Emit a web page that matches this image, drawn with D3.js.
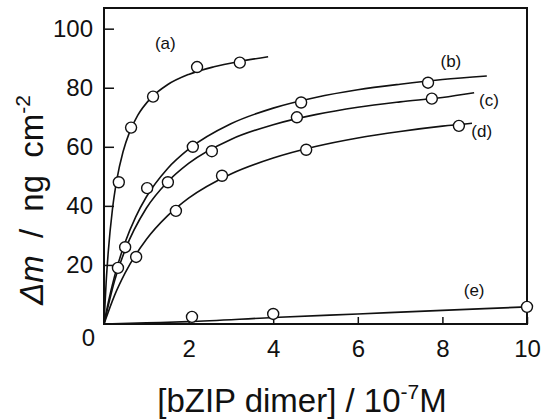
<!DOCTYPE html>
<html>
<head>
<meta charset="utf-8">
<script src="https://cdn.jsdelivr.net/npm/d3@7"></script>
<style>
  body { margin: 0; background: #fff; }
  svg { display: block; }
  text { font-family: "Liberation Sans", Arial, Helvetica, sans-serif; fill: #111; }
  .frame { fill: none; stroke: #111; stroke-width: 2; }
  .fit { fill: none; stroke: #111; stroke-width: 1.6; }
  .pt { fill: #fff; stroke: #111; stroke-width: 1.4; }
  .axis path { display: none; }
  .axis line { stroke: #111; stroke-width: 1.5; }
</style>
</head>
<body>
<div id="chart"></div>
<script>
// measured points  (x: bZIP dimer / 1e-7 M, y: delta m / ng cm-2)
var aX = [0.35, 0.64, 1.16, 2.2, 3.21];
var aY = [48, 66.5, 77, 87, 88.5];
var bX = [0.5, 1.02, 2.1, 4.66, 7.66];
var bY = [26, 46, 60, 75, 81.7];
var cX = [0.33, 1.51, 2.55, 4.56, 7.75];
var cY = [19, 48, 58.5, 70, 76.3];
var dX = [0.76, 1.7, 2.79, 4.78, 8.39];
var dY = [22.7, 38.3, 50.2, 59, 67.1];
var eX = [2.08, 4.0, 10];
var eY = [2.4, 3.4, 5.8];

// fitted curves
var aFitX = [0, 0.05, 0.1, 0.2, 0.3, 0.45, 0.6, 0.8, 1.1, 1.5, 2.0, 2.6, 3.2, 3.88];
var aFitY = [0, 13.9, 24.3, 38.9, 48.6, 58.3, 64.8, 70.7, 76.4, 81, 84.5, 87.1, 88.9, 90.5];
var bFitX = [0, 0.1, 0.25, 0.5, 0.75, 1, 1.5, 2, 3, 4, 5, 6, 7, 8, 9.05];
var bFitY = [0, 7.2, 16.2, 27.7, 36.3, 43, 52.6, 59.2, 67.8, 73.1, 76.7, 79.3, 81.2, 82.8, 84];
var cFitX = [0, 0.25, 0.5, 1, 1.5, 2, 3, 4, 5, 6, 7, 8, 8.75];
var cFitY = [0, 14.6, 25.1, 39.2, 48.1, 54.4, 62.5, 67.5, 70.9, 73.4, 75.2, 76.7, 78.3];
var dFitX = [0, 0.25, 0.5, 1, 1.5, 2, 3, 4, 5, 6, 7, 8, 8.7];
var dFitY = [0, 9.7, 17.3, 28.6, 36.6, 42.6, 50.8, 56.2, 60.1, 63, 65.2, 67, 68];
var eFitX = [0, 1, 2, 4, 6, 8, 10];
var eFitY = [0, 0.4, 0.8, 2.2, 3.4, 4.6, 5.8];

var curveLabels = ["(a)", "(b)", "(c)", "(d)", "(e)"];
var xTicks = [2, 4, 6, 8, 10];
var yTicks = [0, 20, 40, 60, 80, 100];

var W = 545, H = 419;
var pLeft = 104, pRight = 527, pTop = 8, pBottom = 324;

var x = d3.scaleLinear().domain([0, 10]).range([pLeft, pRight]);
var y = d3.scaleLinear().domain([0, 107]).range([pBottom, pTop]);

var svg = d3.select("#chart").append("svg")
  .attr("width", W)
  .attr("height", H);

function zip(xs, ys) {
  return xs.map(function(v, i) { return [v, ys[i]]; });
}

var series = [
  { fit: zip(aFitX, aFitY), pts: zip(aX, aY) },
  { fit: zip(bFitX, bFitY), pts: zip(bX, bY) },
  { fit: zip(cFitX, cFitY), pts: zip(cX, cY) },
  { fit: zip(dFitX, dFitY), pts: zip(dX, dY) },
  { fit: zip(eFitX, eFitY), pts: zip(eX, eY) }
];

// axes (ticks point inward)
var gx = svg.append("g")
  .attr("class", "axis")
  .attr("transform", "translate(0," + pBottom + ")")
  .call(d3.axisBottom(x).tickValues(xTicks).tickSizeInner(-7).tickSizeOuter(0).tickPadding(16));
gx.selectAll("text").style("font-size", "24px");

var gy = svg.append("g")
  .attr("class", "axis")
  .attr("transform", "translate(" + pLeft + ",0)")
  .call(d3.axisLeft(y).tickValues(yTicks).tickSizeInner(-10).tickSizeOuter(0).tickPadding(11));
gy.selectAll("text").style("font-size", "24px");
// the 0 sits at the corner, below the axis line
var zeroTick = gy.selectAll(".tick").filter(function(d) { return d === 0; });
zeroTick.select("text").attr("y", 14).attr("x", -9);
zeroTick.select("line").remove();

svg.append("rect")
  .attr("class", "frame")
  .attr("x", pLeft).attr("y", pTop)
  .attr("width", pRight - pLeft).attr("height", pBottom - pTop);

var line = d3.line()
  .x(function(d) { return x(d[0]); })
  .y(function(d) { return y(d[1]); })
  .curve(d3.curveMonotoneX);

svg.selectAll("path.fit")
  .data(series)
  .enter().append("path")
  .attr("class", "fit")
  .attr("d", function(s) { return line(s.fit); });

series.forEach(function(s) {
  svg.selectAll(null)
    .data(s.pts)
    .enter().append("circle")
    .attr("class", "pt")
    .attr("cx", function(d) { return x(d[0]); })
    .attr("cy", function(d) { return y(d[1]); })
    .attr("r", 5.5);
});

// curve labels, placed in data units
var labelPos = [[1.45, 95], [8.2, 89], [9.1, 76], [8.93, 65.5], [8.75, 11.5]];
svg.selectAll("text.lab")
  .data(curveLabels)
  .enter().append("text")
  .attr("class", "lab")
  .attr("x", function(d, i) { return x(labelPos[i][0]); })
  .attr("y", function(d, i) { return y(labelPos[i][1]); })
  .attr("text-anchor", "middle")
  .attr("dy", "0.35em")
  .style("font-size", "17px")
  .text(function(d) { return d; });

// axis titles
var xt = svg.append("text")
  .attr("x", 302).attr("y", 412)
  .attr("text-anchor", "middle")
  .style("font-size", "33px");
xt.append("tspan").text("[bZIP dimer] / 10");
xt.append("tspan").attr("dy", -13).style("font-size", "21px").text("-7");
xt.append("tspan").attr("dy", 13).text("M");

var yt = svg.append("text")
  .attr("transform", "translate(43,200) rotate(-90)")
  .attr("text-anchor", "middle")
  .style("font-size", "33px")
  .style("word-spacing", "8px");
yt.append("tspan").style("font-style", "italic").text("\u0394m");
yt.append("tspan").text(" / ng cm");
yt.append("tspan").attr("dy", -13).style("font-size", "21px").text("-2");
</script>
</body>
</html>
